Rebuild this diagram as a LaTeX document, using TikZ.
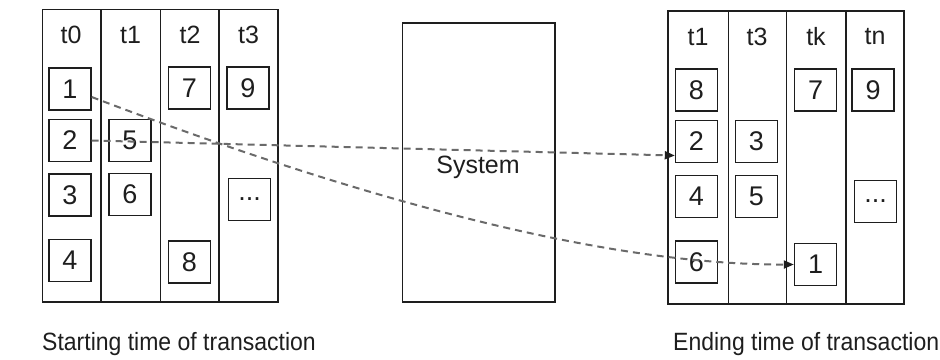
\documentclass[tikz,border=0pt]{standalone}
\usepackage{fontspec}
\usepackage{graphicx}
\setmainfont{Liberation Sans}
\usetikzlibrary{arrows.meta,calc}
\definecolor{ink}{HTML}{1E1E1E}
\definecolor{dashc}{HTML}{6A6A6A}
\newcommand{\nt}[1]{\scalebox{0.92}[1]{#1}}
\begin{document}
\begin{tikzpicture}[x=1pt,y=-1pt,
  cell/.style={draw=ink,line width=1.4pt,minimum width=42pt,minimum height=42pt,inner sep=0pt,
    font=\fontsize{27}{30}\selectfont,text=ink},
  head/.style={font=\fontsize{25}{28}\selectfont,text=ink,inner sep=0pt},
  frame/.style={draw=ink,line width=1.4pt},
  caption/.style={font=\fontsize{25}{30}\selectfont,text=ink,inner sep=0pt},
  flow/.style={draw=dashc,line width=2pt,dash pattern=on 7pt off 5pt,
    -{Triangle[length=10pt,width=8pt,color=ink,fill=ink]}}]
\useasboundingbox (0,0) rectangle (940,359);
% left table
\draw[frame] (42.7,9.3) rectangle (278,302);
\draw[frame] (101,9.3) -- (101,302) (160.7,9.3) -- (160.7,302) (219,9.3) -- (219,302);
\node[head] (lh0) at (71,35) {t0};
\node[head] (lh1) at (130.5,35) {t1};
\node[head] (lh2) at (190,35) {t2};
\node[head] (lh3) at (248.5,35) {t3};
\node[cell] (a1) at (70,89) {1};
\node[cell] (a2) at (70,140.5) {2};
\node[cell] (a3) at (70,195) {3};
\node[cell] (a4) at (70,260.5) {4};
\node[cell] (a5) at (130,140.5) {5};
\node[cell] (a6) at (130,194.5) {6};
\node[cell] (a7) at (189.5,88) {7};
\node[cell] (a8) at (189.5,262) {8};
\node[cell] (a9) at (248,88) {9};
\node[cell] (adots) at (249.5,199.5) {...};
% system
\draw[frame] (402.7,23) rectangle (555,302);
\node[head] (sys) at (478,167) {System};
% right table
\draw[frame] (668,11) rectangle (904,304);
\draw[frame] (728.3,11) -- (728.3,304) (786.3,11) -- (786.3,304) (846,11) -- (846,304);
\node[head] (rh1) at (698,37) {t1};
\node[head] (rh3) at (757,37) {t3};
\node[head] (rhk) at (816,37) {tk};
\node[head] (rhn) at (875,37) {tn};
\node[cell] (b8) at (696.5,90) {8};
\node[cell] (b2) at (696.5,141.5) {2};
\node[cell] (b4) at (696.5,196.5) {4};
\node[cell] (b6) at (696.5,262) {6};
\node[cell] (b3) at (756.5,141.5) {3};
\node[cell] (b5) at (756.5,196.5) {5};
\node[cell] (b7) at (815.5,90) {7};
\node[cell] (b1) at (815.5,264.5) {1};
\node[cell] (b9) at (873,90) {9};
\node[cell] (bdots) at (875.5,201.5) {...};
% captions
\node[caption,anchor=base west] (capL) at (42,350) {\nt{Starting time of transaction}};
\node[caption,anchor=base west] (capR) at (673,350) {\nt{Ending time of transaction}};
% connectors
\draw[flow] (a2.east) -- ($(b2.west)+(0,14)$);
\draw[flow] ($(a1.east)+(0,8)$) .. controls (341,192) and (594,265) .. (b1.west);
\end{tikzpicture}
\end{document}
